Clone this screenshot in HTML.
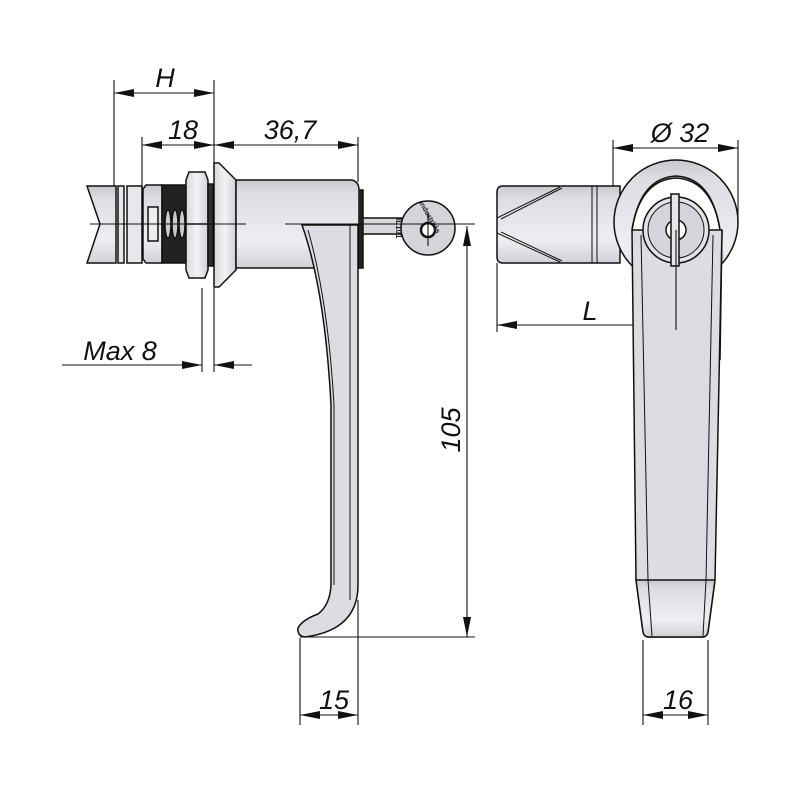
<!DOCTYPE html>
<html><head><meta charset="utf-8"><style>html,body{margin:0;padding:0;background:#fff}svg{display:block}</style></head>
<body>
<svg width="800" height="800" viewBox="0 0 800 800" xmlns="http://www.w3.org/2000/svg" font-family="Liberation Sans, sans-serif">
<defs>
<linearGradient id="g" x1="0" y1="0" x2="0" y2="1">
<stop offset="0" stop-color="#c8c9cf"/><stop offset="0.15" stop-color="#dcdde2"/><stop offset="0.7" stop-color="#eeeef2"/><stop offset="1" stop-color="#d0d1d6"/></linearGradient>
<linearGradient id="gh" x1="0" y1="0" x2="1" y2="0">
<stop offset="0" stop-color="#d8d9de"/><stop offset="0.5" stop-color="#f3f3f6"/><stop offset="1" stop-color="#d0d1d6"/></linearGradient>
<marker id="a" viewBox="0 0 20 8" refX="20" refY="4" markerWidth="20" markerHeight="8" markerUnits="userSpaceOnUse" orient="auto-start-reverse"><path d="M0,0 L20,4 L0,8 z" fill="#111"/></marker>
</defs>
<g stroke="#111" stroke-width="1.1" fill="none">
<!-- extension lines -->
<line x1="114" y1="80" x2="114" y2="187"/>
<line x1="214" y1="80" x2="214" y2="165"/>
<line x1="142" y1="137" x2="142" y2="187"/>
<line x1="358" y1="137" x2="358" y2="182"/>
<line x1="202" y1="288" x2="202" y2="372"/>
<line x1="214" y1="288" x2="214" y2="372"/>
<line x1="300" y1="638" x2="300" y2="725"/>
<line x1="358" y1="600" x2="358" y2="725"/>
<line x1="300" y1="637" x2="475" y2="637"/>
<line x1="643" y1="640" x2="643" y2="725"/>
<line x1="708" y1="640" x2="708" y2="725"/>
<line x1="497" y1="263" x2="497" y2="332"/>
<line x1="613" y1="140" x2="613" y2="200"/>
<line x1="738" y1="140" x2="738" y2="222"/>
<!-- dim lines -->
<line x1="114" y1="93" x2="214" y2="93" marker-start="url(#a)" marker-end="url(#a)"/>
<line x1="142" y1="145" x2="214" y2="145" marker-start="url(#a)" marker-end="url(#a)"/>
<line x1="214" y1="145" x2="358" y2="145" marker-start="url(#a)" marker-end="url(#a)"/>
<line x1="62" y1="365" x2="202" y2="365" marker-end="url(#a)"/>
<line x1="252" y1="365" x2="214" y2="365" marker-end="url(#a)"/>
<line x1="467" y1="226" x2="467" y2="637" marker-start="url(#a)" marker-end="url(#a)"/>
<line x1="300" y1="715" x2="358" y2="715" marker-start="url(#a)" marker-end="url(#a)"/>
<line x1="643" y1="715" x2="708" y2="715" marker-start="url(#a)" marker-end="url(#a)"/>
<line x1="497" y1="325" x2="676" y2="325" marker-start="url(#a)" marker-end="url(#a)"/>
<line x1="613" y1="148" x2="738" y2="148" marker-start="url(#a)" marker-end="url(#a)"/>
</g>
<!-- left view parts -->
<g stroke="#111" stroke-width="1.5">
<path d="M87,186 H116 V263 H87 L100,224 Z" fill="url(#g)"/>
<rect x="118" y="186" width="6" height="77" fill="#e8e8ec"/>
<rect x="127" y="186" width="15" height="77" fill="#e8e8ec"/>
<path d="M143,189 L146,185 H162 V263 H146 L143,259 Z" fill="url(#g)"/>
<rect x="148" y="207" width="10" height="34" fill="#eee"/>
<rect x="162" y="185" width="24" height="78" fill="#222"/>
<g fill="#ccc" stroke="#111"><ellipse cx="168" cy="224" rx="3" ry="14"/><ellipse cx="175" cy="224" rx="3" ry="14"/><ellipse cx="182" cy="224" rx="3" ry="14"/></g>
<path d="M189,172 H205 L208,180 V270 L205,278 H189 L186,270 V180 Z" fill="url(#gh)"/>
<line x1="186" y1="224" x2="208" y2="224"/>
<rect x="208" y="184" width="5" height="82" fill="#333"/>
<path d="M214,163 H219 L236,180 V270 L219,287 H214 Z" fill="url(#gh)"/>
<path d="M236,180 H352 Q359,182 359,190 V268 H236 Z" fill="url(#g)"/>
<path d="M302,225 H358 V585 Q358,630 305,637 Q297,636 298,628 Q302,620 318,614 Q330,605 331,585 V405 Q325,290 302,225 Z" fill="#dcdde2"/>
<path d="M350,225 V600" stroke-width="1"/>
<path d="M308,230 Q328,300 334,405 V585" fill="none" stroke-width="1"/>
<path d="M359,190 H363 V268 H359" fill="#222"/>
<!-- key -->
<path d="M363,218 H402 V234 H363 Z" fill="#d8d8dc"/>
<circle cx="428" cy="228" r="27" fill="#d4d5da"/>
<circle cx="428" cy="230" r="7" fill="#fff" stroke-width="2.5"/>
</g>
<text x="419" y="203" font-size="7" font-weight="bold" transform="rotate(60 419 203)" fill="#222">industrilås</text>
<text x="396" y="218" font-size="8" font-weight="bold" transform="rotate(90 396 218)" fill="#222">IL101</text>
<g stroke="#111" stroke-width="1.1"><line x1="90" y1="224" x2="246" y2="224"/><line x1="285" y1="224" x2="475" y2="224"/><line x1="428" y1="212" x2="428" y2="246"/></g>
<!-- right view -->
<g stroke="#111" stroke-width="1.5">
<path d="M503,186 H620 V263 H503 Q497,263 497,257 V192 Q497,186 503,186 Z" fill="url(#g)"/>
<path d="M497,218 L560,187 M497,233 L560,262 M501,219 L562,188 M501,232 L562,261" stroke-width="1"/>
<line x1="592" y1="186" x2="592" y2="263" stroke-width="1"/><line x1="597" y1="186" x2="597" y2="263" stroke-width="1"/>
<circle cx="676" cy="222" r="62" fill="url(#g)"/>
<path d="M632,230 Q640,180 676,178 Q712,180 720,230 V360 L722,230" fill="#fff"/>
<path d="M632,230 H722 L715,580 L708,632 Q707,637 702,637 H649 Q644,637 643,632 L636,580 Z" fill="#dcdde2"/>
<path d="M636,580 H715 L708,632 Q707,637 702,637 H649 Q644,637 643,632 Z" fill="url(#g)"/>
<path d="M641,235 L648,580 L652,636 M713,235 L706,580 L703,636" fill="none" stroke-width="1"/>
<path d="M632,230 Q640,178 676,176 Q712,178 720,230" fill="none"/>
<circle cx="676" cy="230" r="33" fill="#e3e4e8"/>
<circle cx="676" cy="230" r="28" fill="#d4d5da" stroke-width="1"/>
<circle cx="676" cy="230" r="10" fill="#fff"/>
<rect x="671" y="194" width="8" height="72" fill="#e6e6ea"/>
</g>
<line x1="676" y1="230" x2="676" y2="330" stroke="#111" stroke-width="1.1"/>
<!-- labels -->
<g font-style="italic" font-size="27" fill="#111" text-anchor="middle">
<text x="165" y="87">H</text>
<text x="183" y="139">18</text>
<text x="290" y="139">36,7</text>
<text x="120" y="360">Max 8</text>
<text x="334" y="709">15</text>
<text x="678" y="709">16</text>
<text x="590" y="320">L</text>
<text x="680" y="142">Ø 32</text>
<text x="0" y="0" transform="translate(460,430) rotate(-90)">105</text>
</g>
</svg>
</body></html>
